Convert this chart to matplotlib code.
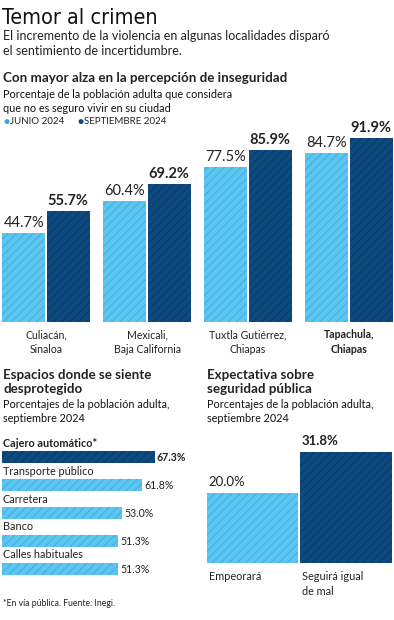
import matplotlib
matplotlib.use("Agg")
import matplotlib.pyplot as plt

# ---- data ----
ciudades = ["Culiacán,\nSinaloa", "Mexicali,\nBaja California", "Tuxtla Gutiérrez,\nChiapas", "Tapachula,\nChiapas"]
junio_2024 = [44.7, 60.4, 77.5, 84.7]
septiembre_2024 = [55.7, 69.2, 85.9, 91.9]

espacios = ["Cajero automático*", "Transporte público", "Carretera", "Banco", "Calles habituales"]
espacios_pct = [67.3, 61.8, 53.0, 51.3, 51.3]

expectativa = ["Empeorará", "Seguirá igual\nde mal"]
expectativa_pct = [20.0, 31.8]

LIGHT = "#5cc5f0"
LIGHT_H = "#42b0e2"
DARK = "#0e4a7e"
DARK_H = "#093d6c"
TXT = "#222222"

plt.rcParams["font.family"] = ["Lato", "DejaVu Sans"]
plt.rcParams["hatch.linewidth"] = 0.8

W, H = 394, 620
fig = plt.figure(figsize=(W / 100, H / 100), dpi=100)


def px_axes(x0, y0, x1, y1):
    # axes from pixel box (top-left origin)
    ax = fig.add_axes([x0 / W, 1 - y1 / H, (x1 - x0) / W, (y1 - y0) / H])
    ax.axis("off")
    return ax


def txt(x, y, s, **kw):
    kw.setdefault("color", TXT)
    kw.setdefault("va", "center")
    fig.text(x / W, 1 - y / H, s, **kw)


# ---- header ----
txt(2, 18, "Temor al crimen", fontsize=15.5, family="DejaVu Sans", stretch="condensed",
    color="#111111")
txt(3, 36, "El incremento de la violencia en algunas localidades disparó", fontsize=9.0)
txt(3, 51, "el sentimiento de incertidumbre.", fontsize=9.0)

txt(3, 78, "Con mayor alza en la percepción de inseguridad", fontsize=9.6, weight="bold")
txt(3, 94, "Porcentaje de la población adulta que considera", fontsize=7.8, color="#111111")
txt(3, 108, "que no es seguro vivir en su ciudad", fontsize=7.8, color="#111111")

txt(3, 122, "●", fontsize=7.5, color="#2aaae8")
txt(10, 122, "JUNIO 2024", fontsize=7)
txt(77, 122, "●", fontsize=7.5, color=DARK)
txt(84, 122, "SEPTIEMBRE 2024", fontsize=7)

# ---- chart 1: vertical grouped bars ----
ax1 = px_axes(0, 130, 394, 322)
ax1.set_xlim(-46 / 101, 348 / 101)
ax1.set_ylim(0, 96)
off = 0.218
bw = 0.426
for i, (a, b) in enumerate(zip(junio_2024, septiembre_2024)):
    ax1.bar(i - off, a, bw, color=LIGHT, edgecolor=LIGHT_H, hatch="////", linewidth=0)
    ax1.bar(i + off, b, bw, color=DARK, edgecolor=DARK_H, hatch="////", linewidth=0)
    ax1.text(i - off, a + 1.5, f"{a:.1f}%", ha="center", va="bottom", fontsize=10.5,
             color=TXT)
    ax1.text(i + off, b + 1.5, f"{b:.1f}%", ha="center", va="bottom", fontsize=10.5,
             weight="bold", color=TXT, clip_on=False)
    ax1.text(i, -3.5, ciudades[i], ha="center", va="top", fontsize=7.6,
             weight="bold" if i == 3 else "normal", color=TXT, linespacing=1.45)

# ---- chart 2: horizontal bars ----
txt(3, 375, "Espacios donde se siente", fontsize=9.6, weight="bold")
txt(3, 389, "desprotegido", fontsize=9.6, weight="bold")
txt(3, 404, "Porcentajes de la población adulta,", fontsize=7.8, color="#111111")
txt(3, 418, "septiembre 2024", fontsize=7.8, color="#111111")

ax2 = px_axes(2, 430, 196, 600)
ax2.set_xlim(0, 194 / 2.27)
ax2.set_ylim(143 / 28, -27 / 28)
for i, (lab, v) in enumerate(zip(espacios, espacios_pct)):
    first = i == 0
    ax2.barh(i, v, 0.45, color=DARK if first else LIGHT,
             edgecolor=DARK_H if first else LIGHT_H, hatch="////", linewidth=0)
    ax2.text(0.4, i - 0.5, lab, ha="left", va="center", fontsize=7.8,
             weight="bold" if first else "normal", color=TXT)
    ax2.text(v + 0.8, i + 0.03, f"{v:.1f}%", ha="left", va="center", fontsize=7.6,
             weight="bold" if first else "normal", color=TXT, clip_on=False)

txt(3, 603, "*En vía pública. Fuente: Inegi.", fontsize=6.2)

# ---- chart 3: expectativa ----
txt(207, 375, "Expectativa sobre", fontsize=9.6, weight="bold")
txt(207, 389, "seguridad pública", fontsize=9.6, weight="bold")
txt(207, 404, "Porcentajes de la población adulta,", fontsize=7.8, color="#111111")
txt(207, 418, "septiembre 2024", fontsize=7.8, color="#111111")

ax3 = px_axes(205, 430, 394, 563)
ax3.set_xlim(-47.5 / 93.5, 141.5 / 93.5)
ax3.set_ylim(0, 38)
for i, (lab, v) in enumerate(zip(expectativa, expectativa_pct)):
    last = i == 1
    ax3.bar(i, v, 0.979, color=DARK if last else LIGHT,
            edgecolor=DARK_H if last else LIGHT_H, hatch="////", linewidth=0)
    ax3.text(i - 0.47, v + 1.3, f"{v:.1f}%", ha="left", va="bottom", fontsize=9.5,
             weight="bold" if last else "normal", color=TXT, clip_on=False)
    ax3.text(i - 0.47, -2.2, lab, ha="left", va="top", fontsize=7.8,
             color=TXT, linespacing=1.45, clip_on=False)

fig.savefig("out.png", dpi=100, facecolor="white")
